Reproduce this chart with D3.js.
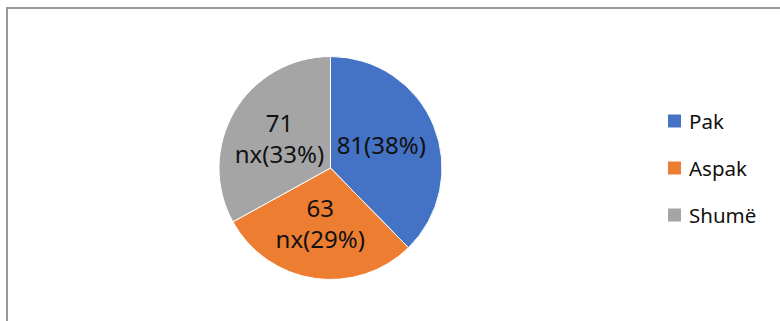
<!DOCTYPE html>
<html>
<head>
<meta charset="utf-8">
<script src="https://cdn.jsdelivr.net/npm/d3@7"></script>
<style>
  body { margin: 0; background: #fff; }
  svg { display: block; font-family: "Noto Sans", "Open Sans", sans-serif; }
</style>
</head>
<body>
<svg id="chart"></svg>
<script>
// Datos del gráfico
const categories = ['Pak', 'Aspak', 'Shumë'];
const values = [81, 63, 71];
const labelLines = [['81(38%)'], ['63', 'nx(29%)'], ['71', 'nx(33%)']];
const colorList = ['#4472C4', '#ED7D31', '#A5A5A5'];

const width = 780;
const height = 321;
const cx = 330.5, cy = 168, radius = 111.5;

const svg = d3.select('#chart')
    .attr('width', width)
    .attr('height', height);

// Marco del área del gráfico
svg.append('rect')
    .attr('x', 7)
    .attr('y', 8)
    .attr('width', width + 20)
    .attr('height', height + 20)
    .attr('fill', 'none')
    .attr('stroke', '#9a9a9a')
    .attr('stroke-width', 2);

const color = d3.scaleOrdinal()
    .domain(categories)
    .range(colorList);

const pie = d3.pie()
    .sort(null)
    .value(d => d.value);

const data = categories.map((c, i) => ({ name: c, value: values[i], lines: labelLines[i] }));
const arcs = pie(data);

const arc = d3.arc().innerRadius(0).outerRadius(radius);
const labelArc = d3.arc().innerRadius(57).outerRadius(57);

const g = svg.append('g')
    .attr('transform', `translate(${cx},${cy})`);

g.selectAll('path')
    .data(arcs)
    .enter().append('path')
    .attr('d', arc)
    .attr('fill', d => color(d.data.name))
    .attr('stroke', '#fff')
    .attr('stroke-width', 1);

// Etiquetas de datos
const lineH = 31;
g.selectAll('text.label')
    .data(arcs)
    .enter().append('text')
    .attr('class', 'label')
    .attr('text-anchor', 'middle')
    .attr('font-size', 24)
    .attr('fill', '#111')
    .each(function(d) {
        const [x, y] = labelArc.centroid(d);
        const n = d.data.lines.length;
        d3.select(this).selectAll('tspan')
            .data(d.data.lines)
            .enter().append('tspan')
            .attr('x', x - 2)
            .attr('y', (t, i) => y + (i - (n - 1) / 2) * lineH + 8)
            .text(t => t);
    });

// Leyenda
const legend = svg.append('g')
    .attr('transform', 'translate(668,0)');

const legendY = d3.scalePoint()
    .domain(categories)
    .range([121, 215]);

const items = legend.selectAll('g')
    .data(categories)
    .enter().append('g')
    .attr('transform', d => `translate(0,${legendY(d)})`);

items.append('rect')
    .attr('x', 0)
    .attr('y', -6.5)
    .attr('width', 13)
    .attr('height', 13)
    .attr('fill', d => color(d));

items.append('text')
    .attr('x', 21)
    .attr('y', 7.5)
    .attr('font-size', 20.5)
    .attr('fill', '#111')
    .text(d => d);
</script>
</body>
</html>
